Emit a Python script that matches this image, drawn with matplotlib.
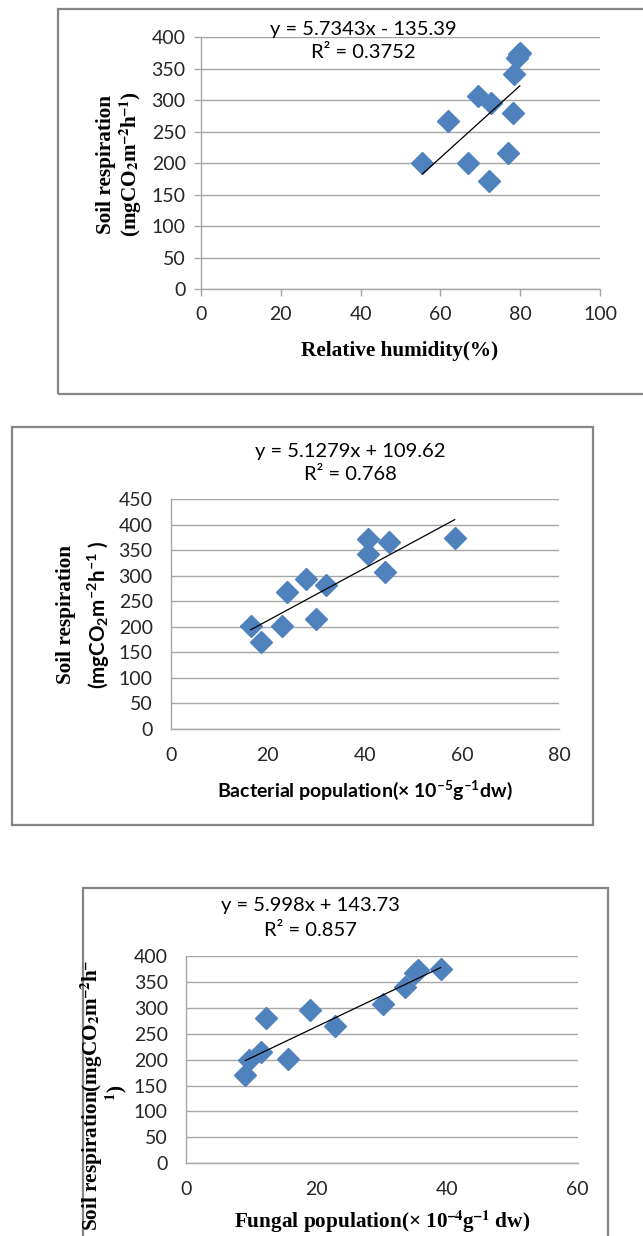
import matplotlib.pyplot as plt
from matplotlib.patches import Rectangle

### figure size in pixels ###
W, H = 643, 1236

### data ###
# relative humidity (%) vs soil respiration
rh = [55.5, 62.0, 67.0, 69.3, 72.8, 72.3, 77.0, 78.2, 78.5, 79.3, 79.6, 79.9]
resp_rh = [200, 267, 200, 307, 296, 171, 216, 280, 341, 367, 373, 375]
rh_slope, rh_icpt = 5.7343, -135.39
rh_eq = ['y = 5.7343x - 135.39', 'R\u00b2 = 0.3752']

# bacterial population vs soil respiration
bact = [16.5, 18.7, 23.0, 24.0, 27.8, 30.0, 31.9, 40.6, 40.6, 44.1, 44.9, 58.5]
resp_bact = [201, 170, 201, 268, 294, 215, 282, 372, 342, 307, 365, 374]
bact_slope, bact_icpt = 5.1279, 109.62
bact_eq = ['y = 5.1279x + 109.62', 'R\u00b2 = 0.768']

# fungal population vs soil respiration
fung = [9.1, 9.6, 11.5, 12.3, 15.6, 19.0, 22.8, 30.1, 33.6, 35.1, 35.5, 39.0]
resp_fung = [170, 200, 215, 280, 201, 295, 265, 307, 341, 367, 373, 375]
fung_slope, fung_icpt = 5.998, 143.73
fung_eq = ['y = 5.998x + 143.73', 'R\u00b2 = 0.857']

### plotting parameters ###
plt.rcParams['mathtext.fontset'] = 'custom'
plt.rcParams['mathtext.rm'] = 'Lato'
plt.rcParams['mathtext.bf'] = 'Lato:bold'
plt.rcParams['mathtext.it'] = 'Lato:italic'
sans = 'Lato'
serif = 'Liberation Serif'
blue = '#4F81BD'
grid_c = '#a6a6a6'
box_c = '#858585'
txt_c = '#262626'
fs_tick = 14
fs_eq = 14.5
fs_lab = 15.3
dash = '\u2013'   # short minus for superscripts

fig = plt.figure(figsize=(W/100., H/100.), dpi=100)

def px_axes(l, t, r, b):
    return fig.add_axes([l/W, 1-b/H, (r-l)/W, (b-t)/H])

def px_text(x, y, s, **kw):
    return fig.text(x/W, 1-y/H, s, ha='center', va='center', color='black', **kw)

def px_box(l, t, r, b):
    fig.add_artist(Rectangle((l/W, 1-b/H), (r-l)/W, (b-t)/H, transform=fig.transFigure,
                             fill=False, ec=box_c, lw=1.6))

def style(ax, xmax, xstep, ymax, ticks):
    ax.set_xlim(0, xmax)
    ax.set_ylim(0, ymax)
    ax.set_xticks(range(0, xmax+1, xstep))
    ax.set_yticks(range(0, ymax+1, 50))
    ax.yaxis.grid(True, color=grid_c, lw=1)
    ax.set_axisbelow(True)
    for s in ['top', 'right']:
        ax.spines[s].set_visible(False)
    for s in ['left', 'bottom']:
        ax.spines[s].set_color(grid_c)
        ax.spines[s].set_linewidth(1)
    for lab in ax.get_xticklabels() + ax.get_yticklabels():
        lab.set_fontfamily(sans)
    if ticks:
        ax.tick_params(axis='both', direction='out', length=5, width=1, color=grid_c,
                       labelsize=fs_tick, labelcolor=txt_c)
        ax.tick_params(axis='y', pad=6)
        ax.tick_params(axis='x', pad=7)
    else:
        ax.tick_params(axis='both', length=0, labelsize=fs_tick, labelcolor=txt_c)
        ax.tick_params(axis='y', pad=13)
        ax.tick_params(axis='x', pad=13)

def scatter_fit(ax, x, y, slope, icpt):
    ax.plot(x, y, marker='D', markersize=11, color=blue, mec=blue, linestyle='None', zorder=3)
    xs = [min(x), max(x)]
    ax.plot(xs, [slope*v + icpt for v in xs], color='black', lw=0.9, zorder=4)

sup = lambda s: '$^\\mathbf{' + s + '}$'
unit_resp = '(mgCO$_\\mathbf{2}$m' + sup(dash + '2') + 'h' + sup(dash + '1') + ')'

# panel 1: relative humidity
px_box(58.3, 9, 660, 394.3)
ax1 = px_axes(201, 37.3, 600, 289)
scatter_fit(ax1, rh, resp_rh, rh_slope, rh_icpt)
style(ax1, 100, 20, 400, True)
px_text(363, 30, rh_eq[0], fontsize=fs_eq, family=sans)
px_text(363, 53, rh_eq[1], fontsize=fs_eq, family=sans)
px_text(106, 164, 'Soil respiration', rotation=90, fontsize=fs_lab, family=serif, weight='bold')
px_text(131, 164, unit_resp, rotation=90, fontsize=fs_lab, family=serif, weight='bold',
        math_fontfamily='stix')
px_text(400, 351, 'Relative humidity(%)', fontsize=fs_lab, family=serif, weight='bold')

# panel 2: bacterial population
px_box(12.3, 427.3, 593.3, 825)
ax2 = px_axes(170.7, 499, 559, 729)
scatter_fit(ax2, bact, resp_bact, bact_slope, bact_icpt)
style(ax2, 80, 20, 450, False)
px_text(350, 451, bact_eq[0], fontsize=fs_eq, family=sans)
px_text(350, 475, bact_eq[1], fontsize=fs_eq, family=sans)
px_text(66, 615, 'Soil respiration', rotation=90, fontsize=fs_lab, family=serif, weight='bold')
px_text(99, 615, unit_resp[:-1] + ' )', rotation=90, fontsize=fs_lab-0.5, family=sans, weight='bold')
px_text(365, 790, 'Bacterial population(\u00d7 10' + sup(dash + '5') + 'g' + sup(dash + '1') + 'dw)',
        fontsize=14, family=sans, weight='bold')

# panel 3: fungal population
px_box(83, 888.3, 608.3, 1260)
ax3 = px_axes(186, 956, 577.7, 1163.3)
scatter_fit(ax3, fung, resp_fung, fung_slope, fung_icpt)
style(ax3, 60, 20, 400, False)
px_text(310, 906, fung_eq[0], fontsize=fs_eq, family=sans)
px_text(310, 931, fung_eq[1], fontsize=fs_eq, family=sans)
px_text(92, 1095, 'Soil respiration(mgCO$_\\mathbf{2}$m' + sup(dash + '2') + 'h' + sup(dash),
        rotation=90, fontsize=fs_lab, family=serif, weight='bold', math_fontfamily='stix')
px_text(116, 1093, sup('1') + ')', rotation=90, fontsize=fs_lab, family=serif, weight='bold',
        math_fontfamily='stix')
px_text(382, 1222, 'Fungal population(\u00d7 10' + sup(dash + '4') + 'g' + sup(dash + '1') + ' dw)',
        fontsize=fs_lab, family=serif, weight='bold', math_fontfamily='stix')

plt.savefig('out.png', dpi=100)
plt.close()
